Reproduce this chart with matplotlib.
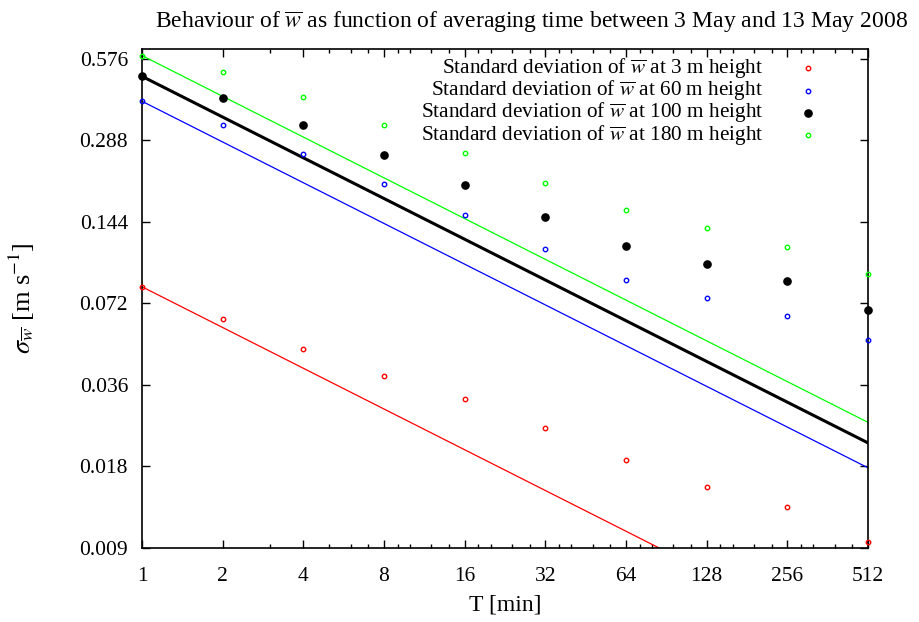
#!/usr/bin/env python3
import numpy as np
import matplotlib
matplotlib.use("Agg")
import matplotlib.pyplot as plt
from matplotlib.ticker import FixedLocator, NullFormatter

# averaging time T [min]
T = [1, 2, 4, 8, 16, 32, 64, 128, 256, 512]

# standard deviation of w-bar [m/s]
sd_3m = [0.083, 0.063, 0.049, 0.0388, 0.032, 0.0249, 0.0190, 0.0151, 0.0128, 0.0095]
sd_60m = [0.402, 0.329, 0.257, 0.199, 0.153, 0.1145, 0.0882, 0.0757, 0.0649, 0.0528]
sd_100m = [0.497, 0.414, 0.328, 0.255, 0.197, 0.150, 0.117, 0.101, 0.0875, 0.0683]
sd_180m = [0.593, 0.515, 0.418, 0.328, 0.259, 0.200, 0.159, 0.137, 0.116, 0.0925]

# reference lines (T^-1/2), values at T=1 and T=512
line_T = [1, 512]
line_3m = [0.083, 0.00367]
line_60m = [0.402, 0.0178]
line_100m = [0.497, 0.0220]
line_180m = [0.593, 0.0262]

labels = ["3", "60", "100", "180"]
yticks = [0.009, 0.018, 0.036, 0.072, 0.144, 0.288, 0.576]

plt.rcParams["font.family"] = ["Liberation Serif", "DejaVu Serif"]
plt.rcParams["mathtext.fontset"] = "stix"

fig = plt.figure(figsize=(9.19, 6.22), dpi=100)
ax = fig.add_axes([142 / 919, 1 - 548 / 622, 726 / 919, 499 / 622])

series = [
    (sd_3m, line_3m, "#ff0000", False),
    (sd_60m, line_60m, "#0000ff", False),
    (sd_100m, line_100m, "black", True),
    (sd_180m, line_180m, "#00ff00", False),
]

for sd, ln, col, filled in series:
    if filled:
        ax.plot(line_T, ln, color=col, lw=2.2, zorder=2)
        ax.plot(T, sd, "o", color=col, ms=5.2, clip_on=False, zorder=3)
    else:
        ax.plot(line_T, ln, color=col, lw=0.9, zorder=2)
        ax.plot(T, sd, "o", mfc="none", mec=col, ms=3.2, mew=1.0, clip_on=False, zorder=3)

ax.set_xscale("log", base=2)
ax.set_yscale("log", base=2)
ax.set_xlim(1, 512)
ax.set_ylim(0.009, 0.627)

ax.set_xticks(T)
ax.set_xticklabels([str(t) for t in T])
ax.set_yticks(yticks)
ax.set_yticklabels([f"{v:.3f}" for v in yticks])

# gnuplot-like minor ticks: integer values at 9/8, 10/8, 12/8, 14/8 of each octave
minor = []
for k in range(0, 9):
    for f in (9, 10, 12, 14):
        v = 2 ** k * f / 8
        if v == int(v):
            minor.append(v)
ax.xaxis.set_minor_locator(FixedLocator(minor))
ax.xaxis.set_minor_formatter(NullFormatter())
ax.yaxis.set_minor_locator(FixedLocator([]))

ax.tick_params(which="both", direction="in", top=True, right=True, labelsize=15.5, width=1.0)
ax.tick_params(which="major", length=6)
ax.tick_params(which="minor", length=3)
ax.tick_params(axis="x", pad=14)
ax.tick_params(axis="y", pad=10)
for s in ax.spines.values():
    s.set_linewidth(1.2)

# legend drawn by hand: right-aligned text with marker to the right
leg_y = [68, 90.5, 112.5, 135]
for (sd, ln, col, filled), h, yp in zip(series, labels, leg_y):
    ya = (548 - yp) / 499
    ax.text((763 - 142) / 726, ya,
            r"Standard deviation of $\overline{w}$ at " + h + " m height",
            transform=ax.transAxes, ha="right", va="center", fontsize=15.3)
    xa = (808 - 142) / 726
    if filled:
        ax.plot([xa], [ya], "o", color=col, ms=5.2, transform=ax.transAxes, clip_on=False)
    else:
        ax.plot([xa], [ya], "o", mfc="none", mec=col, ms=3.2, mew=1.0,
                transform=ax.transAxes, clip_on=False)

fig.text(531 / 919, 1 - 22 / 622,
         r"Behaviour of $\overline{w}$ as function of averaging time between 3 May and 13 May 2008",
         ha="center", va="center", fontsize=17)
fig.text(505 / 919, 1 - 605 / 622, "T [min]", ha="center", va="center", fontsize=17)
fig.text(22 / 919, 1 - 298 / 622, r"$\sigma_{\overline{w}}$ [m s$^{-1}$]",
         ha="center", va="center", rotation=90, fontsize=19)

fig.savefig("out.png", dpi=100)
